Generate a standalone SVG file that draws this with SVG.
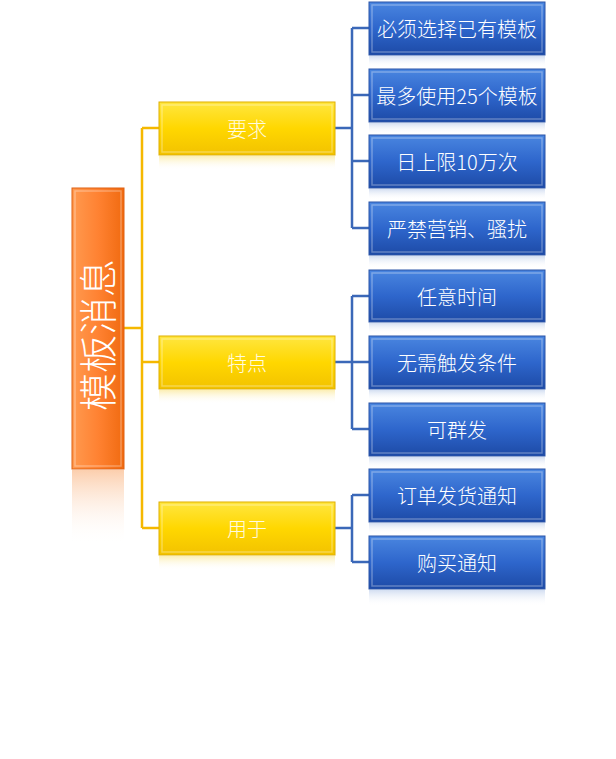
<svg xmlns="http://www.w3.org/2000/svg" width="616" height="759" viewBox="0 0 616 759">
<defs>
<linearGradient id="gBlue" x1="0" y1="0" x2="0" y2="1">
<stop offset="0" stop-color="#4a86e0"/><stop offset="0.5" stop-color="#2e66cc"/><stop offset="1" stop-color="#1d4aa6"/>
</linearGradient>
<linearGradient id="gYel" x1="0" y1="0" x2="0" y2="1">
<stop offset="0" stop-color="#ffe640"/><stop offset="0.5" stop-color="#ffd700"/><stop offset="1" stop-color="#f2c200"/>
</linearGradient>
<linearGradient id="gOra" x1="0" y1="0" x2="1" y2="0">
<stop offset="0" stop-color="#ff9a50"/><stop offset="0.5" stop-color="#ff8232"/><stop offset="1" stop-color="#f06a10"/>
</linearGradient>
<linearGradient id="rBlue" x1="0" y1="0" x2="0" y2="1">
<stop offset="0" stop-color="#c8d6ee" stop-opacity="0.8"/><stop offset="1" stop-color="#ffffff" stop-opacity="0"/>
</linearGradient>
<linearGradient id="rYel" x1="0" y1="0" x2="0" y2="1">
<stop offset="0" stop-color="#fbeaa0" stop-opacity="0.8"/><stop offset="1" stop-color="#ffffff" stop-opacity="0"/>
</linearGradient>
<linearGradient id="rOra" x1="0" y1="0" x2="0" y2="1">
<stop offset="0" stop-color="#fbc9a4" stop-opacity="0.9"/><stop offset="1" stop-color="#ffffff" stop-opacity="0"/>
</linearGradient>
</defs>
<style>
.blue{fill:url(#gBlue);stroke:#2a55a8;stroke-width:1}
.yel{fill:url(#gYel);stroke:#e0b000;stroke-width:1}
.ora{fill:url(#gOra);stroke:#e06010;stroke-width:1}
.hl{fill:none;stroke:#ffffff;stroke-opacity:0.3;stroke-width:1.5}
.rb{fill:url(#rBlue)}
.ry{fill:url(#rYel)}
.t{font-family:"Noto Sans CJK SC","Liberation Sans",sans-serif;font-size:20px;font-weight:300;fill:#ffffff;text-anchor:middle;dominant-baseline:central}
.ty{fill:#fffbe0}
.cy{fill:none;stroke:#f5b800;stroke-width:2.5}
.cb{fill:none;stroke:#3b68b8;stroke-width:2.5}
</style>
<g id="connectors">
<path class="cy" d="M124 328H142M142 128V528M142 128H159M142 362H159M142 528H159"/>
<path class="cb" d="M335 128H352M352 28V228M352 28H369M352 95H369M352 161H369M352 228H369"/>
<path class="cb" d="M335 362H352M352 296V429M352 296H369M352 362H369M352 429H369"/>
<path class="cb" d="M335 528H352M352 495V562M352 495H369M352 562H369"/>
</g>
<g id="root">
<rect x="72" y="470" width="52" height="75" fill="url(#rOra)"/>
<rect class="ora" x="72" y="188" width="52" height="281"/>
<rect class="hl" x="75" y="191" width="46" height="275"/>
<text transform="translate(95 335) rotate(-90)" style="font-family:'Noto Sans CJK SC','Liberation Sans',sans-serif;font-size:38px;font-weight:300;fill:#ffffff;text-anchor:middle;dominant-baseline:central">模板消息</text>
</g>
<g id="n-yaoqiu">
<rect class="ry" x="159" y="156" width="176" height="14"/>
<rect class="yel" x="159" y="102" width="176" height="53"/>
<rect class="hl" x="162" y="105" width="170" height="47"/>
<text class="t ty" x="247" y="128">要求</text>
</g>
<g id="n-tedian">
<rect class="ry" x="159" y="390" width="176" height="14"/>
<rect class="yel" x="159" y="336" width="176" height="53"/>
<rect class="hl" x="162" y="339" width="170" height="47"/>
<text class="t ty" x="247" y="362">特点</text>
</g>
<g id="n-yongyu">
<rect class="ry" x="159" y="556" width="176" height="14"/>
<rect class="yel" x="159" y="502" width="176" height="53"/>
<rect class="hl" x="162" y="505" width="170" height="47"/>
<text class="t ty" x="247" y="528">用于</text>
</g>
<g id="b1"><rect class="rb" x="369" y="56" width="176" height="11"/><rect class="blue" x="369" y="2" width="176" height="53"/><rect class="hl" x="372" y="5" width="170" height="47"/><text class="t" x="457" y="28">必须选择已有模板</text></g>
<g id="b2"><rect class="rb" x="369" y="123" width="176" height="11"/><rect class="blue" x="369" y="69" width="176" height="53"/><rect class="hl" x="372" y="72" width="170" height="47"/><text class="t" x="457" y="95">最多使用25个模板</text></g>
<g id="b3"><rect class="rb" x="369" y="189" width="176" height="11"/><rect class="blue" x="369" y="135" width="176" height="53"/><rect class="hl" x="372" y="138" width="170" height="47"/><text class="t" x="457" y="161">日上限10万次</text></g>
<g id="b4"><rect class="rb" x="369" y="256" width="176" height="12"/><rect class="blue" x="369" y="202" width="176" height="53"/><rect class="hl" x="372" y="205" width="170" height="47"/><text class="t" x="457" y="228">严禁营销、骚扰</text></g>
<g id="b5"><rect class="rb" x="369" y="323" width="176" height="11"/><rect class="blue" x="369" y="270" width="176" height="52"/><rect class="hl" x="372" y="273" width="170" height="46"/><text class="t" x="457" y="296">任意时间</text></g>
<g id="b6"><rect class="rb" x="369" y="390" width="176" height="11"/><rect class="blue" x="369" y="336" width="176" height="53"/><rect class="hl" x="372" y="339" width="170" height="47"/><text class="t" x="457" y="362">无需触发条件</text></g>
<g id="b7"><rect class="rb" x="369" y="457" width="176" height="11"/><rect class="blue" x="369" y="403" width="176" height="53"/><rect class="hl" x="372" y="406" width="170" height="47"/><text class="t" x="457" y="429">可群发</text></g>
<g id="b8"><rect class="rb" x="369" y="523" width="176" height="11"/><rect class="blue" x="369" y="469" width="176" height="53"/><rect class="hl" x="372" y="472" width="170" height="47"/><text class="t" x="457" y="495">订单发货通知</text></g>
<g id="b9"><rect class="rb" x="369" y="590" width="176" height="16"/><rect class="blue" x="369" y="536" width="176" height="53"/><rect class="hl" x="372" y="539" width="170" height="47"/><text class="t" x="457" y="562">购买通知</text></g>
</svg>
